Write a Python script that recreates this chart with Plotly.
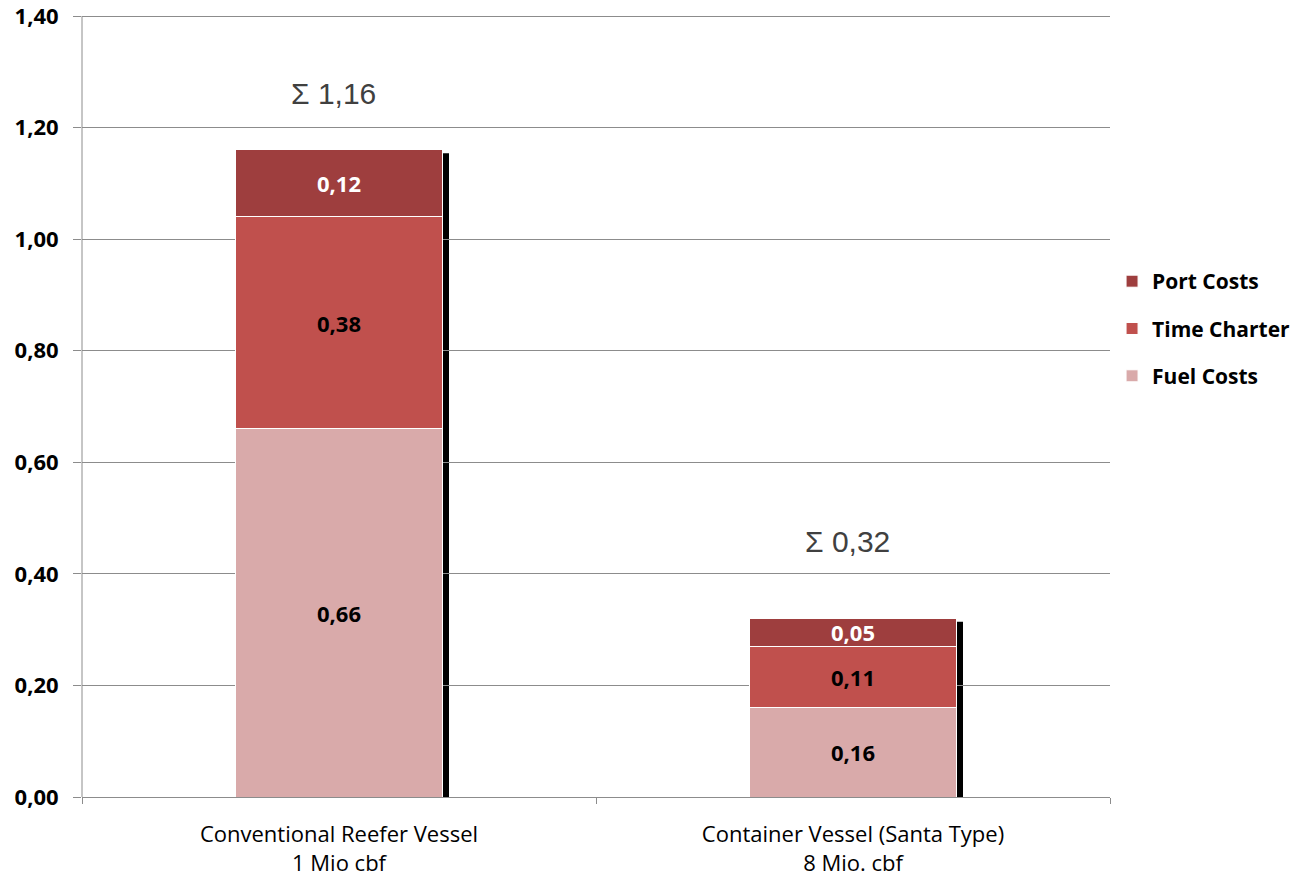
import plotly.graph_objects as go

# Transport cost per unit, split by cost component
categories = ["Conventional Reefer Vessel<br>1 Mio cbf", "Container Vessel (Santa Type)<br>8 Mio. cbf"]
fuel_costs = [0.66, 0.16]
time_charter = [0.38, 0.11]
port_costs = [0.12, 0.05]
y_ticks = [0.0, 0.2, 0.4, 0.6, 0.8, 1.0, 1.2, 1.4]
y_tick_labels = ["0,00", "0,20", "0,40", "0,60", "0,80", "1,00", "1,20", "1,40"]
totals = [round(f + t + p, 2) for f, t, p in zip(fuel_costs, time_charter, port_costs)]

FONT = "Open Sans"
AXIS_GREY = "#8C8C8C"
fmt = lambda v: f"{v:.2f}".replace(".", ",")

# Plot area: leave some head-room above the top tick so its label and grid line stay visible
W, H = 1295, 882
M_TOP, M_BOT = 3, 85
HEADROOM = 13
plot_h = H - M_TOP - M_BOT
y_max = y_ticks[-1]
y_top = y_max * plot_h / (plot_h - HEADROOM)

series = [
    ("Fuel Costs", fuel_costs, "#D9AAAA", "black", 3),
    ("Time Charter", time_charter, "#C0504D", "black", 2),
    ("Port Costs", port_costs, "#9E3E3E", "white", 1),
]

fig = go.Figure()
for name, vals, color, tcolor, rank in series:
    fig.add_trace(go.Bar(
        x=categories, y=vals, name=name, legendgroup=name, legendrank=rank,
        marker=dict(color=color, line=dict(color="white", width=1)),
        text=[fmt(v) for v in vals],
        textposition="inside", insidetextanchor="middle", constraintext="none",
        textfont=dict(family=FONT, size=22, color=tcolor, weight="bold"),
        width=0.403,
    ))

# Drop shadow on the right edge of each stacked column
for i, tot in enumerate(totals):
    fig.add_shape(
        type="rect", xref="x", yref="y",
        xsizemode="pixel", xanchor=i, x0=104, x1=110,
        y0=0, y1=tot - 0.006,
        fillcolor="black", line=dict(width=0), layer="below",
    )

# Vertical axis line, running from 0 up to the top tick
fig.add_shape(
    type="line", xref="paper", yref="y", x0=0, x1=0, y0=0, y1=y_max,
    line=dict(color=AXIS_GREY, width=1),
)

# Column totals
shifts = [38, 58]
for i, tot in enumerate(totals):
    fig.add_annotation(
        x=categories[i], y=tot, text="Σ " + fmt(tot), showarrow=False,
        yanchor="bottom", yshift=shifts[i], xshift=-6,
        font=dict(family="Liberation Sans", size=30, color="#404040"),
    )

fig.update_layout(
    template="none",
    barmode="stack",
    width=W, height=H,
    margin=dict(l=82, r=185, t=M_TOP, b=M_BOT, autoexpand=False),
    plot_bgcolor="white", paper_bgcolor="white",
    bargap=0.6,
    legend=dict(
        traceorder="grouped", tracegroupgap=17,
        x=1.002, xanchor="left", y=0.59, yanchor="middle",
        font=dict(family=FONT, size=21, color="black", weight="bold"),
        itemwidth=30, bgcolor="rgba(0,0,0,0)",
    ),
    yaxis=dict(
        range=[0, y_top], tickmode="array", tickvals=y_ticks, ticktext=y_tick_labels,
        automargin=False, ticklabeloverflow="allow",
        showgrid=True, gridcolor=AXIS_GREY, gridwidth=1,
        showline=False,
        ticks="outside", ticklen=8, tickcolor=AXIS_GREY,
        ticklabelstandoff=10,
        tickfont=dict(family=FONT, size=22, color="black", weight="bold"),
        zeroline=False,
    ),
    xaxis=dict(
        automargin=False,
        showline=True, linecolor=AXIS_GREY, linewidth=1,
        ticks="outside", tickson="boundaries",
        ticklen=6, tickcolor=AXIS_GREY, showgrid=False,
        ticklabelstandoff=18,
        tickfont=dict(family=FONT, size=22, color="black"),
    ),
)

fig.write_html("out.html")
